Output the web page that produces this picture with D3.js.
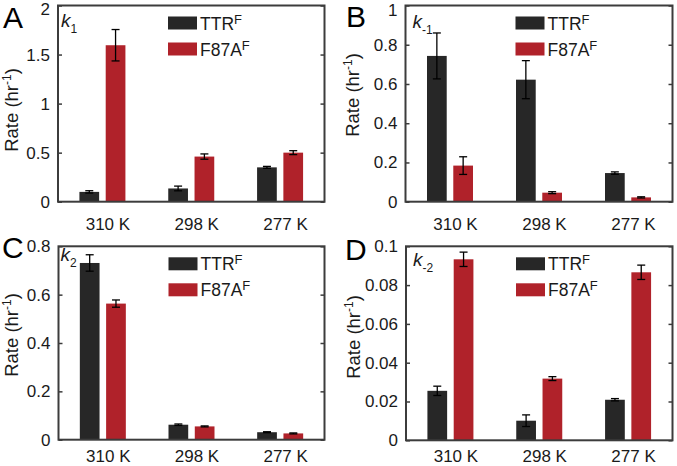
<!DOCTYPE html>
<html><head><meta charset="utf-8">
<script src="https://cdn.jsdelivr.net/npm/d3@7"></script>
<style>
body{margin:0;background:#fff}
svg{display:block}
text{font-family:"Liberation Sans",Arial,Helvetica,sans-serif}
</style>
</head><body>
<svg id="chart" width="677" height="466"></svg>
<script>
// ---- data ----
const temps = ["310 K", "298 K", "277 K"];
const seriesNames = ["TTR", "F87A"];

const k1TTR = [0.10, 0.135, 0.35];
const k1TTRErr = [0.012, 0.024, 0.01];
const k1F87A = [1.595, 0.46, 0.50];
const k1F87AErr = [0.16, 0.027, 0.02];

const km1TTR = [0.743, 0.622, 0.146];
const km1TTRErr = [0.117, 0.097, 0.006];
const km1F87A = [0.184, 0.046, 0.022];
const km1F87AErr = [0.045, 0.005, 0.003];

const k2TTR = [0.731, 0.062, 0.031];
const k2TTRErr = [0.034, 0.003, 0.002];
const k2F87A = [0.563, 0.055, 0.026];
const k2F87AErr = [0.015, 0.002, 0.002];

const km2TTR = [0.0255, 0.0101, 0.0209];
const km2TTRErr = [0.0024, 0.003, 0.0006];
const km2F87A = [0.0933, 0.0318, 0.0866];
const km2F87AErr = [0.0037, 0.001, 0.0037];

const k1Ticks = [0, 0.5, 1, 1.5, 2];
const km1Ticks = [0, 0.2, 0.4, 0.6, 0.8, 1];
const k2Ticks = [0, 0.2, 0.4, 0.6, 0.8];
const km2Ticks = [0, 0.02, 0.04, 0.06, 0.08, 0.1];

const legendLabels = ["TTR", "F87A"];
const legendSup = "F";
const yLabelMain = "Rate (hr";
const yLabelSup = "-1";

// ---- styles ----
const colors = {TTR: "#272727", F87A: "#b0222a"};
const boxColor = "#3c3c3c";
const textColor = "#1a1a1a";

// ---- layout ----
const panels = [
  {letter: "A", k: "1", kx: 3, ky: 21.5, x0: 58, x1: 324.5, y0: 5.5, y1: 201.7, max: 2, ticks: k1Ticks,
   ttr: k1TTR, ttrE: k1TTRErr, f87: k1F87A, f87E: k1F87AErr, lx: 3, ly: 28, xlab: 28, ylx: 40, ylc: 110, topShift: 4},
  {letter: "B", k: "-1", kx: 7, ky: 22.5, x0: 405.5, x1: 672.5, y0: 5.5, y1: 201.7, max: 1, ticks: km1Ticks,
   ttr: km1TTR, ttrE: km1TTRErr, f87: km1F87A, f87E: km1F87AErr, lx: 346, ly: 27, xlab: 28, ylx: 47, ylc: 95, topShift: 4.5},
  {letter: "C", k: "2", kx: 2, ky: 15, x0: 58.5, x1: 324.5, y0: 246.3, y1: 439.7, max: 0.8, ticks: k2Ticks,
   ttr: k2TTR, ttrE: k2TTRErr, f87: k2F87A, f87E: k2F87AErr, lx: 2, ly: 258, xlab: 22, ylx: 40.5, ylc: 335, topShift: 0},
  {letter: "D", k: "-2", kx: 7, ky: 20, x0: 406, x1: 672.5, y0: 246.3, y1: 440.3, max: 0.1, ticks: km2Ticks,
   ttr: km2TTR, ttrE: km2TTRErr, f87: km2F87A, f87E: km2F87AErr, lx: 345, ly: 260, xlab: 22, ylx: 46, ylc: 337, topShift: 0}
];

const svg = d3.select("#chart");

panels.forEach(p => {
  const g = svg.append("g");
  const x = d3.scaleLinear().domain([0.5, 3.5]).range([p.x0, p.x1]);
  const y = d3.scaleLinear().domain([0, p.max]).range([p.y1, p.y0]);
  const inner = d3.scaleBand().domain(seriesNames).range([-23, 23]).paddingInner(0.25);

  // bars
  const rows = [];
  temps.forEach((t, i) => {
    rows.push({i: i + 1, s: "TTR", v: p.ttr[i], e: p.ttrE[i]});
    rows.push({i: i + 1, s: "F87A", v: p.f87[i], e: p.f87E[i]});
  });
  g.selectAll("rect.bar").data(rows).enter().append("rect")
    .attr("class", "bar")
    .attr("x", d => x(d.i) + inner(d.s))
    .attr("width", inner.bandwidth())
    .attr("y", d => y(d.v))
    .attr("height", d => y(0) - y(d.v))
    .attr("fill", d => colors[d.s]);

  // error bars
  const eb = g.selectAll("g.err").data(rows).enter().append("g")
    .attr("stroke", "#000").attr("stroke-width", 1.3);
  const cx = d => x(d.i) + inner(d.s) + inner.bandwidth() / 2;
  eb.append("line").attr("x1", cx).attr("x2", cx)
    .attr("y1", d => y(d.v + d.e)).attr("y2", d => y(d.v - d.e));
  eb.append("line").attr("x1", d => cx(d) - 4).attr("x2", d => cx(d) + 4)
    .attr("y1", d => y(d.v + d.e)).attr("y2", d => y(d.v + d.e));
  eb.append("line").attr("x1", d => cx(d) - 4).attr("x2", d => cx(d) + 4)
    .attr("y1", d => y(d.v - d.e)).attr("y2", d => y(d.v - d.e));

  // left axis
  const fmt = d3.format("~g");
  const la = g.append("g").attr("transform", `translate(${p.x0},0)`)
    .call(d3.axisLeft(y).tickValues(p.ticks).tickSize(-4).tickSizeOuter(0).tickPadding(8).tickFormat(fmt));
  la.select(".domain").remove();
  la.selectAll("line").attr("stroke", boxColor).attr("stroke-width", 1.5);
  la.selectAll("text").attr("font-size", 17).attr("fill", textColor)
    .attr("font-family", "'Liberation Sans',Arial,sans-serif")
    .attr("y", d => d === p.max ? p.topShift : 0);

  // right axis ticks
  const ra = g.append("g").attr("transform", `translate(${p.x1},0)`)
    .call(d3.axisRight(y).tickValues(p.ticks).tickSize(-4).tickSizeOuter(0).tickFormat(""));
  ra.select(".domain").remove();
  ra.selectAll("line").attr("stroke", boxColor).attr("stroke-width", 1.5);

  // bottom axis labels
  const ba = g.append("g").attr("transform", `translate(0,${p.y1})`)
    .call(d3.axisBottom(x).tickValues([1, 2, 3]).tickSize(0).tickPadding(0).tickFormat((d, i) => temps[i]));
  ba.select(".domain").remove();
  ba.selectAll("text").attr("font-size", 17).attr("fill", textColor)
    .attr("dy", null).attr("y", p.xlab).attr("dx", 5)
    .attr("font-family", "'Liberation Sans',Arial,sans-serif");

  // box
  g.append("rect").attr("x", p.x0).attr("y", p.y0)
    .attr("width", p.x1 - p.x0).attr("height", p.y1 - p.y0)
    .attr("fill", "none").attr("stroke", boxColor).attr("stroke-width", 2);

  // k label
  const kt = g.append("text").attr("x", p.x0 + p.kx).attr("y", p.y0 + p.ky)
    .attr("font-size", 19).attr("fill", textColor);
  kt.append("tspan").attr("font-style", "italic").text("k");
  kt.append("tspan").attr("font-size", 12).attr("dy", 6).text(p.k);

  // legend
  const lg = g.append("g").attr("transform", `translate(${p.x0 + 110},${p.y0 + 11})`);
  legendLabels.forEach((lab, i) => {
    const yy = i * 26;
    lg.append("rect").attr("x", 0).attr("y", yy).attr("width", 29).attr("height", 13)
      .attr("fill", colors[seriesNames[i]]);
    const t = lg.append("text").attr("x", 32).attr("y", yy + 13)
      .attr("font-size", 17.5).attr("fill", textColor);
    t.append("tspan").text(lab);
    t.append("tspan").attr("font-size", 13).attr("dy", -6).text(legendSup);
  });

  // y label
  const yl = g.append("text")
    .attr("transform", `translate(${p.x0 - p.ylx},${p.ylc}) rotate(-90)`)
    .attr("text-anchor", "middle").attr("font-size", 18.5).attr("fill", textColor);
  yl.append("tspan").text(yLabelMain);
  yl.append("tspan").attr("font-size", 12).attr("dy", -7).text(yLabelSup);
  yl.append("tspan").attr("dy", 7).text(")");

  // panel letter
  svg.append("text").attr("x", p.lx).attr("y", p.ly).attr("font-size", 30)
    .attr("fill", "#000").text(p.letter);
});
</script>
</body></html>
